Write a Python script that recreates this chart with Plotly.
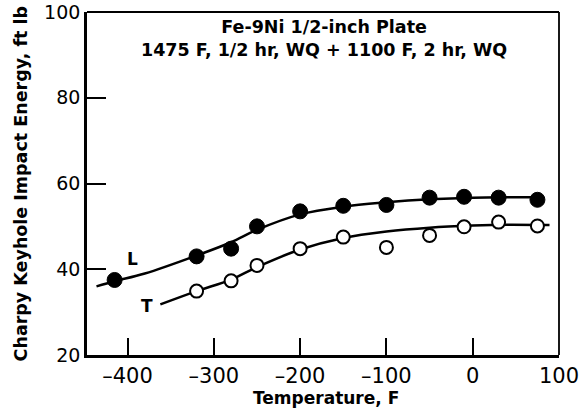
import plotly.graph_objects as go

# Measured points
L_temp = [-415, -320, -280, -250, -200, -150, -100, -50, -10, 30, 75]
L_energy = [37.5, 43.0, 44.8, 50.0, 53.5, 54.8, 55.0, 56.7, 56.9, 56.7, 56.2]
T_temp = [-320, -280, -250, -200, -150, -100, -50, -10, 30, 75]
T_energy = [34.9, 37.3, 40.9, 44.8, 47.5, 45.1, 47.9, 49.9, 51.0, 50.1]

# Fitted curves
L_curve_temp = [-436, -415, -380, -320, -280, -250, -200, -150, -100, -50, 0, 40, 80]
L_curve_energy = [36.0, 37.2, 39.0, 43.2, 46.3, 49.2, 52.8, 54.6, 55.6, 56.3, 56.7, 56.8, 56.8]
T_curve_temp = [-362, -320, -280, -250, -200, -150, -100, -50, 0, 40, 89]
T_curve_energy = [31.8, 34.9, 37.6, 40.5, 44.6, 47.3, 48.8, 49.7, 50.2, 50.4, 50.3]

x_ticks = [-400, -300, -200, -100, 0, 100]
x_tick_labels = ["\u2013400", "\u2013300", "\u2013200", "\u2013100", "0", "100"]
y_ticks = [20, 40, 60, 80, 100]

title_lines = ["Fe-9Ni 1/2-inch Plate", "1475 F, 1/2 hr, WQ + 1100 F, 2 hr, WQ"]
x_title = "Temperature, F"
y_title = "Charpy Keyhole Impact Energy, ft lb"

fig = go.Figure()
fig.add_trace(go.Scatter(x=L_curve_temp, y=L_curve_energy, mode="lines",
                         line=dict(color="black", width=2.5, shape="spline", smoothing=1.0),
                         hoverinfo="skip"))
fig.add_trace(go.Scatter(x=T_curve_temp, y=T_curve_energy, mode="lines",
                         line=dict(color="black", width=2.5, shape="spline", smoothing=1.0),
                         hoverinfo="skip"))
fig.add_trace(go.Scatter(x=L_temp, y=L_energy, mode="markers",
                         marker=dict(size=15, color="black", line=dict(color="black", width=1))))
fig.add_trace(go.Scatter(x=T_temp, y=T_energy, mode="markers",
                         marker=dict(size=13, color="white", line=dict(color="black", width=2))))

fig.add_annotation(x=-394, y=42.3, text="<b>L</b>", showarrow=False,
                   font=dict(family="DejaVu Sans", size=17, color="black"))
fig.add_annotation(x=-378, y=31.5, text="<b>T</b>", showarrow=False,
                   font=dict(family="DejaVu Sans", size=17, color="black"))
fig.add_annotation(xref="paper", yref="paper", x=0.502, y=0.923, yanchor="middle",
                   text="<b>" + "<br>".join(title_lines) + "</b>",
                   showarrow=False, align="center",
                   font=dict(family="DejaVu Sans", size=17.5, color="black"))
fig.add_annotation(xref="paper", yref="paper", x=0.506, y=-0.125, yanchor="middle",
                   text="<b>" + x_title + "</b>", showarrow=False,
                   font=dict(family="DejaVu Sans", size=17, color="black"))
fig.add_annotation(xref="paper", yref="paper", x=-0.14, y=0.5, xanchor="center", yanchor="middle",
                   text="<b>" + y_title + "</b>", showarrow=False, textangle=-90,
                   font=dict(family="DejaVu Sans", size=17.5, color="black"))

# thinner top and right frame lines
fig.add_shape(type="line", xref="paper", yref="paper", x0=0, x1=1, y0=1, y1=1,
              line=dict(color="black", width=1.8))
fig.add_shape(type="line", xref="paper", yref="paper", x0=1, x1=1, y0=0, y1=1,
              line=dict(color="black", width=1.8))

fig.update_layout(
    width=588, height=413,
    margin=dict(l=87, r=29, t=12, b=58),
    paper_bgcolor="white", plot_bgcolor="white",
    showlegend=False,
    font=dict(family="DejaVu Sans", color="black"),
)
fig.update_xaxes(range=[-447, 100], tickvals=x_ticks, ticktext=x_tick_labels,
                 ticks="inside", ticklen=17, tickwidth=2, tickcolor="black",
                 showline=True, linecolor="black", linewidth=2.5, mirror=False,
                 showgrid=False, zeroline=False, automargin=False,
                 ticklabeloverflow="allow",
                 tickfont=dict(family="DejaVu Sans", size=21))
fig.update_yaxes(range=[20, 100], tickvals=y_ticks,
                 ticks="inside", ticklen=19, tickwidth=2, tickcolor="black",
                 showline=True, linecolor="black", linewidth=2.7, mirror=False,
                 showgrid=False, zeroline=False, automargin=False,
                 ticklabeloverflow="allow",
                 tickfont=dict(family="DejaVu Sans", size=19))

# remove the default 8px page margin so the figure fills the window exactly
fig.write_html("out.html",
               config={"displayModeBar": False},
               post_script="document.body.style.margin='0';document.body.style.overflow='hidden';")
